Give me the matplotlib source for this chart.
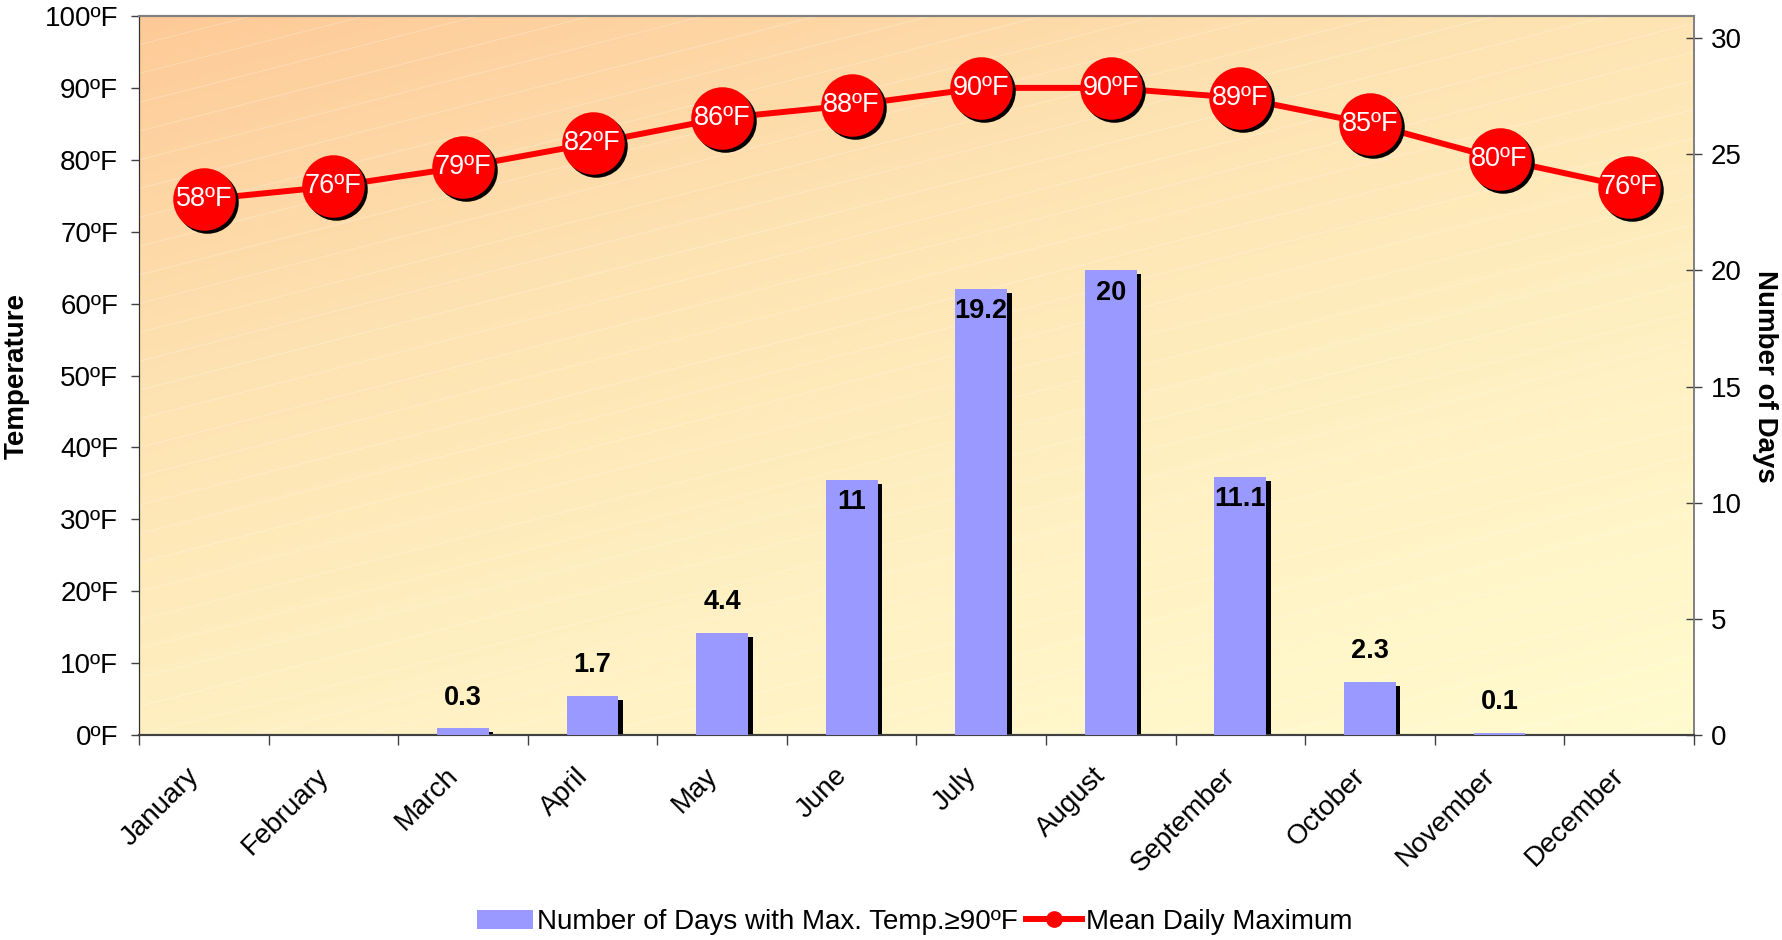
import numpy as np
import matplotlib
matplotlib.use("Agg")
import matplotlib.pyplot as plt
from matplotlib.transforms import offset_copy, ScaledTranslation
from matplotlib.lines import Line2D
from matplotlib.patches import Patch
from matplotlib.colors import LinearSegmentedColormap

plt.rcParams['font.family'] = ['Liberation Sans', 'DejaVu Sans']

# data
months = ['January', 'February', 'March', 'April', 'May', 'June', 'July',
          'August', 'September', 'October', 'November', 'December']
mean_max = [74.5, 76.3, 79.0, 82.3, 85.8, 87.6, 90.0, 90.0, 88.6, 85.0, 80.1, 76.2]
mean_max_labels = ['58ºF', '76ºF', '79ºF', '82ºF', '86ºF', '88ºF',
                   '90ºF', '90ºF', '89ºF', '85ºF', '80ºF', '76ºF']
days_90 = [0, 0, 0.3, 1.7, 4.4, 11, 19.2, 20, 11.1, 2.3, 0.1, 0]
days_labels = ['', '', '0.3', '1.7', '4.4', '11', '19.2', '20', '11.1', '2.3', '0.1', '']
temp_ticks = list(range(0, 101, 10))
day_ticks = [0, 5, 10, 15, 20, 25, 30]

fig = plt.figure(figsize=(17.83, 9.40), dpi=100)
ax = fig.add_axes([0.078, 0.218, 0.872, 0.765])
ax2 = ax.twinx()

x = np.arange(len(months))

# gradient background, orange top-left to pale yellow bottom-right
cmap = LinearSegmentedColormap.from_list('bg', ['#fdca97', '#fee3b2', '#fff1c3', '#fffbcf'])
gx, gy = np.meshgrid(np.linspace(0, 1, 300), np.linspace(0, 1, 200))
grad = (0.6 * gx + 1.0 * gy) / 1.6
ax.imshow(grad, cmap=cmap, extent=[0, 1, 0, 1], transform=ax.transAxes,
          aspect='auto', origin='upper', zorder=0)
# faint diagonal lines
for c in np.arange(-0.6, 1.0, 0.04):
    ax.plot([0, 1], [c, c + 0.55], transform=ax.transAxes, color='white',
            lw=0.6, alpha=0.3, zorder=0.5, clip_on=True)

ax.set_xlim(-0.5, 11.5)
ax.set_ylim(0, 100)
ax2.set_ylim(0, 30.95)

# bars with shadow
bw = 0.4
shadow_tr = offset_copy(ax2.transData, fig=fig, x=4.5, y=-4, units='dots')
ax2.bar(x, days_90, width=bw, color='black', transform=shadow_tr, zorder=2)
ax2.bar(x, days_90, width=bw, color='#9999ff', zorder=3)
for xi, v, lab in zip(x, days_90, days_labels):
    if not lab:
        continue
    if v > 8:
        ax2.text(xi, v - 0.4, lab, ha='center', va='top', fontsize=19.5,
                 fontweight='bold', zorder=4)
    else:
        ax2.text(xi, v + 0.75, lab, ha='center', va='bottom', fontsize=19.5,
                 fontweight='bold', zorder=4)

# line with shadowed markers
ax.plot(x, mean_max, color='#ff0000', lw=4.3, zorder=3)
mk_shadow = offset_copy(ax.transData, fig=fig, x=3, y=-3, units='dots')
ax.plot(x, mean_max, 'o', color='black', ms=45, mew=0, transform=mk_shadow, zorder=4)
ax.plot(x, mean_max, 'o', color='#ff0000', ms=45, mew=0, zorder=5)
for xi, v, lab in zip(x, mean_max, mean_max_labels):
    ax.text(xi, v, lab, ha='center', va='center', color='white', fontsize=19.5, zorder=6)

# axes styling
ax.set_yticks(temp_ticks)
ax.set_yticklabels([f'{t}ºF' for t in temp_ticks], fontsize=20)
ax.tick_params(axis='y', direction='out', length=6, width=1, pad=9, color='#404040')
ax.set_xticks(np.arange(-0.5, 12, 1))
ax.set_xticklabels([])
ax.set_xticks(x, minor=True)
ax.set_xticklabels(months, minor=True, rotation=45, ha='right',
                   rotation_mode='anchor', fontsize=20)
ax.tick_params(axis='x', which='major', direction='out', length=7, width=1, color='#404040')
ax.tick_params(axis='x', which='minor', length=0, pad=20)
shift = ScaledTranslation(-18 / 100, 0, fig.dpi_scale_trans)
for lab in ax.get_xticklabels(minor=True):
    lab.set_transform(lab.get_transform() + shift)

ax2.set_yticks(day_ticks)
ax2.set_yticklabels([str(d) for d in day_ticks], fontsize=20)
ax2.tick_params(axis='y', direction='inout', length=12, width=1, pad=6, color='#404040')

for a in (ax, ax2):
    a.spines['top'].set_color('#808080')
    a.spines['top'].set_linewidth(1.5)
    a.spines['right'].set_color('#808080')
    a.spines['right'].set_linewidth(1.2)
    a.spines['left'].set_color('#303030')
    a.spines['bottom'].set_color('#404040')
    a.spines['bottom'].set_linewidth(1.5)

fig.text(0.0095, 0.6, 'Temperature', rotation=90, ha='center', va='center',
         fontsize=20, fontweight='bold')
fig.text(0.99, 0.6, 'Number of Days', rotation=-90, ha='center', va='center',
         fontsize=20, fontweight='bold')

handles = [Patch(facecolor='#9999ff', edgecolor='none'),
           Line2D([0], [0], color='#ff0000', lw=4.3, marker='o', ms=11)]
fig.legend(handles, ['Number of Days with Max. Temp.≥90ºF', 'Mean Daily Maximum'],
           loc='center', bbox_to_anchor=(0.513, 0.019), ncol=2, frameon=False,
           fontsize=20, handlelength=2.0, handletextpad=0.15, columnspacing=0.3)

fig.savefig('out.png', dpi=100)
